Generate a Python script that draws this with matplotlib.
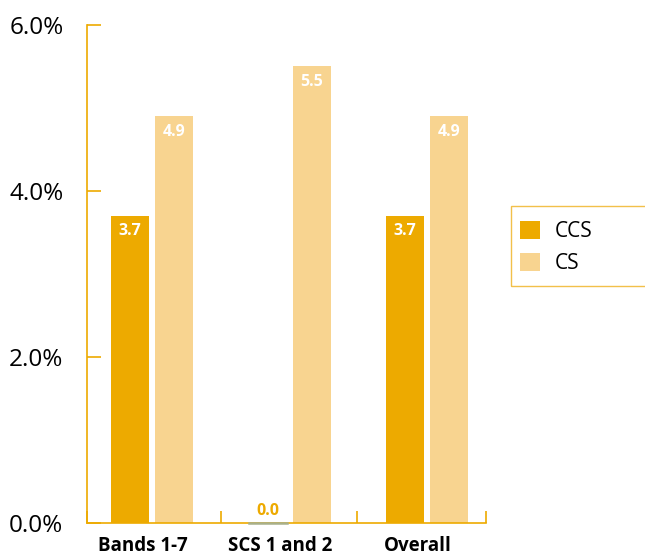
import matplotlib
matplotlib.use("Agg")
import matplotlib.pyplot as plt
from matplotlib.patches import Rectangle
from matplotlib.ticker import FuncFormatter

categories = ["Bands 1-7", "SCS 1 and 2", "Overall"]
ccs = [3.7, 0.0, 3.7]
cs = [4.9, 5.5, 4.9]
series_names = ["CCS", "CS"]

c_ccs = "#EDAA00"
c_cs = "#F8D490"
c_axis = "#EDAA00"

plt.rcParams['font.family'] = ['Open Sans', 'DejaVu Sans']

fig = plt.figure(figsize=(6.45, 5.59), dpi=100)
ax = fig.add_axes([0.1349, 0.0644, 0.6186, 0.8909])

x = list(range(len(categories)))
w = 0.276
off = 0.16
ax.bar([i - off for i in x], ccs, width=w, color=c_ccs, label=series_names[0])
ax.bar([i + off for i in x], cs, width=w, color=c_cs, label=series_names[1])

for i, v in enumerate(ccs):
    if v == 0:
        ax.plot([i - off - w/2, i - off + w/2], [0, 0], color="#A8B08A", lw=1.8, zorder=5, clip_on=False)
        ax.text(i - off, 0.05, f"{v:.1f}", ha="center", va="bottom", color=c_ccs,
                fontsize=11.5, fontweight="bold")
    else:
        ax.text(i - off, v - 0.09, f"{v:.1f}", ha="center", va="top", color="white",
                fontsize=11.5, fontweight="bold")
for i, v in enumerate(cs):
    ax.text(i + off, v - 0.09, f"{v:.1f}", ha="center", va="top", color="white",
            fontsize=11.5, fontweight="bold")

ax.set_ylim(0, 6.0)
ax.set_xlim(-0.473, 2.429)
ax.set_yticks([0, 2, 4, 6])
ax.yaxis.set_major_formatter(FuncFormatter(lambda v, p: f"{v:.1f}%"))
ax.set_xticks([i - 0.07 for i in x])
ax.set_xticklabels(categories, fontweight="bold", fontsize=13.5)
ax.set_xticks([-0.473, 0.502, 1.49, 2.429], minor=True)

for s in ["top", "right"]:
    ax.spines[s].set_visible(False)
for s in ["left", "bottom"]:
    ax.spines[s].set_color(c_axis)
    ax.spines[s].set_linewidth(1.2)

ax.tick_params(axis="y", direction="in", length=10, width=1.2, color=c_axis,
               labelsize=17.5, pad=17)
ax.tick_params(axis="x", which="major", length=0, pad=9)
ax.tick_params(axis="x", which="minor", direction="in", length=9, width=1.2, color=c_axis)

# legend frame (extends past right edge of figure)
fig.patches.append(Rectangle((511 / 645, 1 - 286 / 559), 0.3, 80 / 559,
                             transform=fig.transFigure, fill=False,
                             edgecolor="#F2C04A", linewidth=1.0))
leg = ax.legend(loc="upper left", bbox_to_anchor=(520 / 645, 1 - 221 / 559),
                bbox_transform=fig.transFigure,
                fontsize=15, frameon=False, handlelength=0.95, handleheight=0.95,
                borderpad=0, labelspacing=0.5, handletextpad=0.7, borderaxespad=0)

fig.savefig("out.png", dpi=100)
